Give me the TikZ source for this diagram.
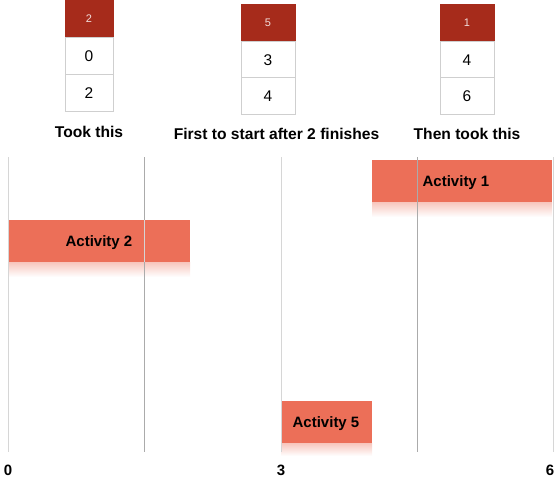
\documentclass[tikz,border=0pt]{standalone}
\usepackage{fontspec}
\setmainfont{Liberation Sans}
\definecolor{barcol}{HTML}{EC6F58}
\definecolor{redcard}{HTML}{A62B1B}
\definecolor{cardline}{HTML}{CFCFCF}
\definecolor{lightline}{HTML}{D6D6D6}
\definecolor{darkline}{HTML}{ABABAB}
\begin{document}
\begin{tikzpicture}[x=1pt,y=-1pt,
  redbox/.style={fill=redcard,draw=redcard,line width=0.6pt},
  whitebox/.style={fill=white,draw=cardline,line width=0.8pt},
  redtxt/.style={text=white!85!redcard,font=\fontsize{11}{12}\selectfont},
  numtxt/.style={font=\fontsize{15.5}{17}\selectfont},
  captxt/.style={font=\bfseries\fontsize{15.6}{17}\selectfont},
  bartxt/.style={font=\bfseries\fontsize{15}{17}\selectfont},
  axtxt/.style={font=\bfseries\fontsize{15}{17}\selectfont},
  lightv/.style={draw=lightline,line width=1pt},
  darkv/.style={draw=darkline,line width=1pt},
  bar/.style={fill=barcol},
  refl/.style={top color=barcol!40,bottom color=white}]
\useasboundingbox (0,0) rectangle (560,482);
% cards left
\path[redbox] (65,0) rectangle (113,37);
\path[whitebox] (65,37) rectangle (113,74);
\path[whitebox] (65,74) rectangle (113,111);
\node[redtxt] (l1) at (89,19) {2};
\node[numtxt] (l2) at (89,56) {0};
\node[numtxt] (l3) at (89,93) {2};
% cards middle
\path[redbox] (241,4) rectangle (295,41);
\path[whitebox] (241,41) rectangle (295,77.5);
\path[whitebox] (241,77.5) rectangle (295,114);
\node[redtxt] (m1) at (268,23) {5};
\node[numtxt] (m2) at (268,60) {3};
\node[numtxt] (m3) at (268,96.5) {4};
% cards right
\path[redbox] (440,4) rectangle (494,41);
\path[whitebox] (440,41) rectangle (494,77.5);
\path[whitebox] (440,77.5) rectangle (494,114);
\node[redtxt] (r1) at (467,23) {1};
\node[numtxt] (r2) at (467,60) {4};
\node[numtxt] (r3) at (467,96.5) {6};
% captions
\node[captxt] (c1) at (89,131.5) {Took this};
\node[captxt] (c2) at (276.5,134) {First to start after 2 finishes};
\node[captxt] (c3) at (467,134) {Then took this};
% bars
\shade[refl] (8,262) rectangle (190,277);
\path[bar] (8,219.5) rectangle (190,262);
\shade[refl] (372,202) rectangle (552,217);
\path[bar] (372,160) rectangle (552,202);
\shade[refl] (281,443) rectangle (372,456);
\path[bar] (281,400.5) rectangle (372,443);
% vertical lines
\path[lightv] (8,157) -- (8,452);
\path[darkv] (144,157) -- (144,452);
\path[draw=white,opacity=0.5,line width=1pt] (144,219.5) -- (144,262);
\path[lightv] (281,157) -- (281,452);
\path[darkv] (417,157) -- (417,452);
\path[lightv] (553,157) -- (553,452);
% bar labels
\node[bartxt] (a2) at (99,243) {Activity 2};
\node[bartxt] (a1) at (456,183) {Activity 1};
\node[bartxt] (a5) at (326,424) {Activity 5};
% axis
\node[axtxt] (x0) at (8,470) {0};
\node[axtxt] (x3) at (281,470) {3};
\node[axtxt] (x6) at (550,470) {6};
\end{tikzpicture}
\end{document}
